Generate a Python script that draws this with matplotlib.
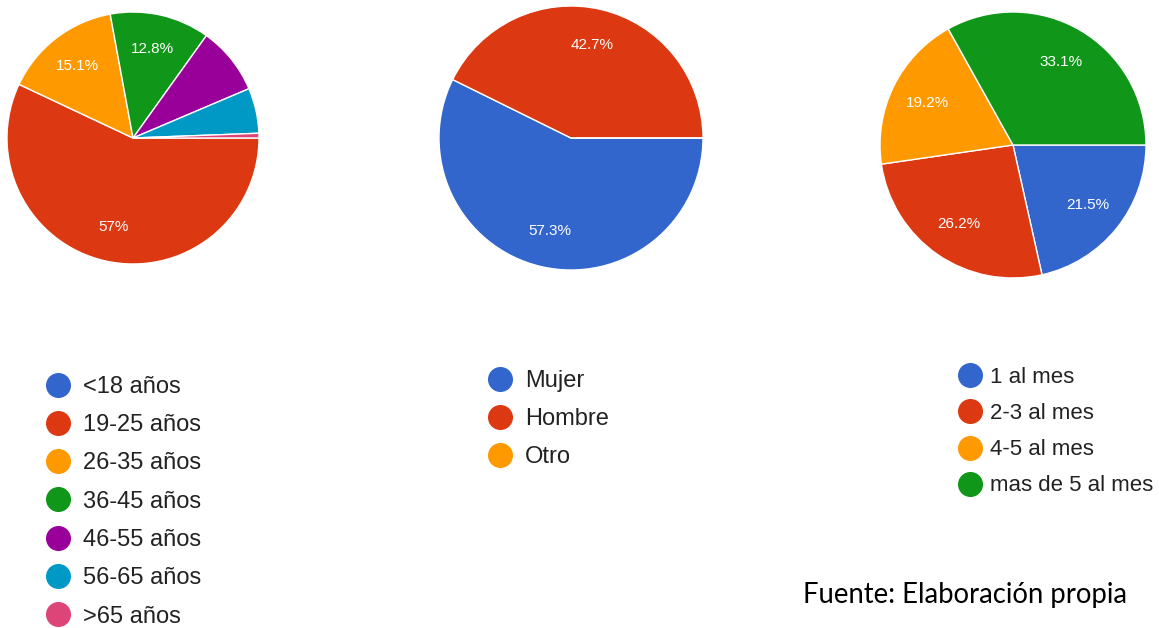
import matplotlib.pyplot as plt
from matplotlib.lines import Line2D

plt.rcParams['font.family'] = ['Liberation Sans', 'DejaVu Sans']

# Datos de las tres encuestas (porcentajes)
edades = ['<18 años', '19-25 años', '26-35 años', '36-45 años',
          '46-55 años', '56-65 años', '>65 años']
pct_edades = [0.0, 57.0, 15.1, 12.8, 8.7, 5.8, 0.6]

sexos = ['Mujer', 'Hombre', 'Otro']
pct_sexos = [57.3, 42.7, 0.0]

frecuencias = ['1 al mes', '2-3 al mes', '4-5 al mes', 'mas de 5 al mes']
pct_frec = [21.5, 26.2, 19.2, 33.1]

# Colores por defecto de Google Forms
colores = ['#3366cc', '#dc3912', '#ff9900', '#109618',
           '#990099', '#0099c6', '#dd4477']

W, H = 1159, 628
fig = plt.figure(figsize=(W / 100, H / 100), dpi=100)


def eje_px(cx, cy, r):
    # ejes cuadrados en coordenadas de pixel (origen arriba a la izquierda)
    return fig.add_axes([(cx - r) / W, (H - cy - r) / H, 2 * r / W, 2 * r / H])


def etiqueta(p):
    return f'{p:g}%' if p >= 10 else ''


def pastel(ax, valores, n):
    ax.pie(valores, colors=colores[:n], startangle=0, counterclock=False,
           autopct=etiqueta, pctdistance=0.72, radius=1,
           wedgeprops=dict(edgecolor='white', linewidth=1),
           textprops=dict(color='white', fontsize=11))
    ax.set_xlim(-1, 1)
    ax.set_ylim(-1, 1)
    ax.set_aspect('equal')
    ax.axis('off')


def leyenda(etiquetas, x, y, fs, sep, pad):
    handles = [Line2D([], [], marker='o', linestyle='', markersize=17,
                      markerfacecolor=colores[i], markeredgecolor=colores[i])
               for i in range(len(etiquetas))]
    fig.legend(handles, etiquetas, loc='upper left',
               bbox_to_anchor=(x / W, 1 - y / H), frameon=False,
               fontsize=fs, labelspacing=sep, handletextpad=pad,
               borderpad=0, handlelength=1.2, labelcolor='#222222')


pastel(eje_px(133, 138, 126), pct_edades, len(edades))
pastel(eje_px(571, 138, 132), pct_sexos, len(sexos))
pastel(eje_px(1013, 145, 133), pct_frec, len(frecuencias))

leyenda(edades, 32, 364, 17, 0.69, 0.45)
leyenda(sexos, 474, 358, 17, 0.69, 0.45)
leyenda(frecuencias, 946, 356, 16, 0.68, 0.3)

fig.text(803, H - 595, 'Fuente: Elaboración propia', transform=None,
         fontsize=19.8, family='Lato', va='center', ha='left', color='black')

plt.savefig('out.png', dpi=100)
